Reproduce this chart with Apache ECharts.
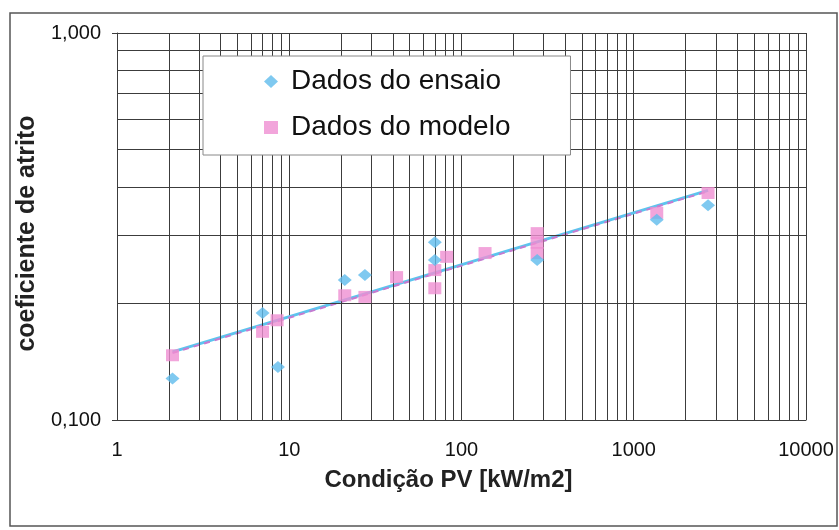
<!DOCTYPE html>
<html>
<head>
<meta charset="utf-8">
<script src="https://cdn.jsdelivr.net/npm/echarts@6/dist/echarts.min.js"></script>
<style>
  html, body { margin: 0; padding: 0; background: #fff; }
  #chart { width: 839px; height: 530px; }
</style>
</head>
<body>
<div id="chart"></div>
<script>
// dados (PV em kW/m2, coeficiente de atrito)
var ensaioPV = [2.1, 7.0, 8.6, 21, 27.5, 70, 70, 275, 1360, 2700];
var ensaioMu = [0.128, 0.189, 0.137, 0.230, 0.237, 0.288, 0.259, 0.259, 0.329, 0.359];

var modeloPV = [2.1, 7.0, 8.5, 21, 27.5, 42, 70, 70, 82, 137, 275, 275, 275, 1360, 2700];
var modeloMu = [0.147, 0.169, 0.181, 0.210, 0.208, 0.234, 0.244, 0.219, 0.264, 0.270, 0.304, 0.287, 0.270, 0.343, 0.386];

// linhas de tendência (extremos lidos)
var tendEnsaioPV = [2.1, 2700];
var tendEnsaioMu = [0.150, 0.392];
var tendModeloPV = [2.1, 2700];
var tendModeloMu = [0.149, 0.390];

var xTickVals = [1, 10, 100, 1000, 10000];
var xTickLabels = ['1', '10', '100', '1000', '10000'];
var yTickVals = [0.1, 1];
var yTickLabels = ['0,100', '1,000'];

var font = 'Liberation Sans, Arial, sans-serif';
var gridColor = '#3c3c3c';

function pairs(xs, ys) {
  return xs.map(function (x, i) { return [x, ys[i]]; });
}

// linhas de grade secundárias (2..9 em cada década)
var minorX = [];
for (var d = 1; d < 10000; d *= 10) {
  for (var k = 2; k <= 9; k++) minorX.push({ xAxis: k * d });
}
var minorY = [];
for (var k2 = 2; k2 <= 9; k2++) minorY.push({ yAxis: k2 / 10 });

var myChart = echarts.init(document.getElementById('chart'));

var option = {
  animation: false,
  backgroundColor: '#fff',
  textStyle: { fontFamily: font },
  graphic: [{
    type: 'rect',
    shape: { x: 10, y: 13, width: 827, height: 513 },
    style: { fill: 'none', stroke: '#555', lineWidth: 1.5 },
    z: -1
  }],
  grid: { left: 117, right: 33, top: 33, bottom: 110 },
  legend: {
    orient: 'vertical',
    left: 203,
    top: 56,
    z: 50,
    zlevel: 1,
    padding: [10, 60, 12, 61],
    itemGap: 15,
    itemWidth: 14,
    itemHeight: 13,
    backgroundColor: '#fff',
    borderColor: '#888',
    borderWidth: 1,
    data: ['Dados do ensaio', 'Dados do modelo'],
    textStyle: {
      fontFamily: font,
      fontSize: 28,
      lineHeight: 31,
      color: '#111',
      padding: [0, 0, 0, 8]
    }
  },
  xAxis: {
    type: 'log',
    logBase: 10,
    min: 1,
    max: 10000,
    name: 'Condição PV [kW/m2]',
    nameLocation: 'middle',
    nameGap: 48,
    nameTextStyle: {
      fontFamily: font, fontSize: 24, fontWeight: 'bold', color: '#222',
      padding: [0, 26, 0, 0]
    },
    axisLine: { show: true, lineStyle: { color: gridColor, width: 1 } },
    axisTick: { show: false },
    axisLabel: {
      margin: 20,
      fontSize: 20,
      color: '#111',
      formatter: function (v) {
        var i = xTickVals.indexOf(Math.pow(10, Math.round(Math.log10(v))));
        return i >= 0 ? xTickLabels[i] : '';
      }
    },
    splitLine: { show: true, lineStyle: { color: gridColor, width: 1 } }
  },
  yAxis: {
    type: 'log',
    logBase: 10,
    min: 0.1,
    max: 1,
    name: 'coeficiente de atrito',
    nameLocation: 'middle',
    nameGap: 70,
    nameTextStyle: {
      fontFamily: font, fontSize: 25, fontWeight: 'bold', color: '#222',
      padding: [0, 14, 0, 0]
    },
    axisLine: { show: true, lineStyle: { color: gridColor, width: 1 } },
    axisTick: { show: true, length: 5, lineStyle: { color: gridColor } },
    axisLabel: {
      margin: 16,
      fontSize: 20,
      color: '#111',
      formatter: function (v) {
        var i = Math.round(Math.log10(v)) + 1;
        return yTickLabels[i] || '';
      }
    },
    splitLine: { show: true, lineStyle: { color: gridColor, width: 1 } }
  },
  series: [
    {
      name: 'grade',
      type: 'line',
      data: [],
      silent: true,
      z: 1,
      markLine: {
        silent: true,
        symbol: 'none',
        label: { show: false },
        lineStyle: { color: gridColor, width: 1, type: 'solid' },
        emphasis: { disabled: true },
        data: minorX.concat(minorY)
      }
    },
    {
      name: 'tendência ensaio',
      type: 'line',
      data: pairs(tendEnsaioPV, tendEnsaioMu),
      showSymbol: false,
      z: 3,
      lineStyle: { color: '#5cc4ee', width: 3 }
    },
    {
      name: 'tendência modelo',
      type: 'line',
      data: pairs(tendModeloPV, tendModeloMu),
      showSymbol: false,
      z: 4,
      lineStyle: { color: '#c77ad0', width: 2, type: [6, 5] }
    },
    {
      name: 'Dados do modelo',
      type: 'scatter',
      data: pairs(modeloPV, modeloMu),
      symbol: 'rect',
      symbolSize: [13, 12],
      z: 5,
      itemStyle: { color: '#ef8fd2' }
    },
    {
      name: 'Dados do ensaio',
      type: 'scatter',
      data: pairs(ensaioPV, ensaioMu),
      symbol: 'diamond',
      symbolSize: [14, 12],
      z: 6,
      itemStyle: { color: '#5fbcec' }
    }
  ]
};

if (option && typeof option === 'object') {
  myChart.setOption(option);
}

window.addEventListener('resize', myChart.resize);
</script>
</body>
</html>
